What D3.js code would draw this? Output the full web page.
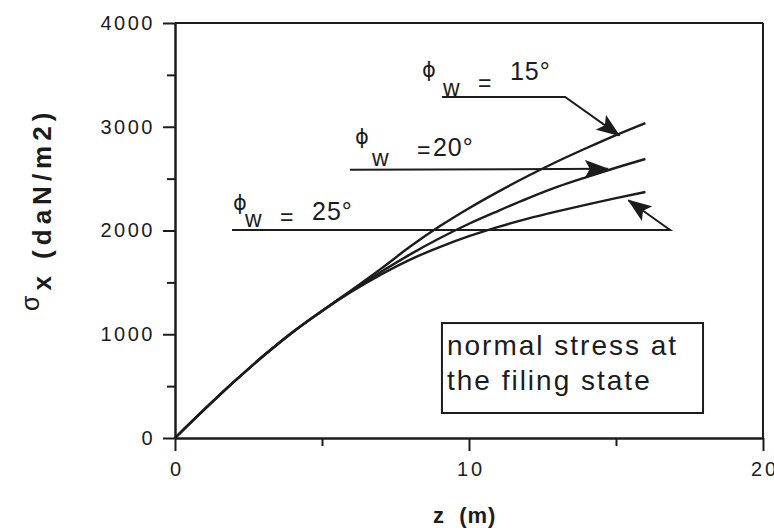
<!DOCTYPE html>
<html>
<head>
<meta charset="utf-8">
<script src="https://cdn.jsdelivr.net/npm/d3@7"></script>
<style>
  html, body { margin: 0; padding: 0; background: #ffffff; }
  svg { display: block; }
  text { font-family: "Liberation Sans", Arial, Helvetica, sans-serif; fill: #1c1c1c; }
</style>
</head>
<body>
<svg id="chart" width="774" height="528"></svg>
<script>
// Depth below the surface (m)
const depth = [0, 1, 2, 3, 4, 5, 6, 7, 8, 9, 10, 11, 12, 13, 14, 15, 16];
// Horizontal normal stress sigma_x (daN/m2) for each wall friction angle
const stressPhi15 = [0, 275, 540, 790, 1020, 1225, 1425, 1630, 1845, 2040, 2215, 2375, 2525, 2665, 2795, 2920, 3036];
const stressPhi20 = [0, 275, 540, 790, 1020, 1225, 1418, 1600, 1770, 1925, 2065, 2190, 2310, 2420, 2515, 2605, 2689];
const stressPhi25 = [0, 275, 540, 790, 1020, 1225, 1410, 1575, 1720, 1840, 1945, 2035, 2115, 2185, 2250, 2312, 2371];
const seriesAngles = ["15°", "20°", "25°"];

const xMajorTicks = [0, 10, 20];
const xMinorTicks = [5, 15];
const yMajorTicks = [0, 1000, 2000, 3000, 4000];
const yMinorTicks = [500, 1500, 2500, 3500];

const boxLines = ["normal stress at", "the filing state"];

const svg = d3.select("#chart");
const ink = "#1c1c1c";

const x = d3.scaleLinear().domain([0, 20]).range([175, 763]);
const y = d3.scaleLinear().domain([0, 4000]).range([438, 23]);

// ---- frame (top and right) ----
svg.append("line").attr("x1", x(0)).attr("x2", x(20)).attr("y1", y(4000)).attr("y2", y(4000))
  .attr("stroke", ink).attr("stroke-width", 2);
svg.append("line").attr("x1", x(20)).attr("x2", x(20)).attr("y1", y(4000)).attr("y2", y(0))
  .attr("stroke", ink).attr("stroke-width", 2);

// ---- axes ----
function styleAxis(g) {
  g.selectAll("path.domain").attr("stroke", ink).attr("stroke-width", 2);
  g.selectAll(".tick line").attr("stroke", ink).attr("stroke-width", 2);
  g.selectAll(".tick text").attr("fill", ink);
}

const yMinor = svg.append("g").attr("transform", `translate(${x(0)},0)`)
  .call(d3.axisLeft(y).tickValues(yMinorTicks).tickSize(8).tickSizeOuter(0).tickFormat(""));
styleAxis(yMinor);
const yMajor = svg.append("g").attr("transform", `translate(${x(0)},0)`)
  .call(d3.axisLeft(y).tickValues(yMajorTicks).tickSize(12).tickSizeOuter(0).tickPadding(8).tickFormat(d3.format("d")));
styleAxis(yMajor);
yMajor.selectAll(".tick text").style("font-size", "20px").style("letter-spacing", "2.5px");

const xMinor = svg.append("g").attr("transform", `translate(0,${y(0)})`)
  .call(d3.axisBottom(x).tickValues(xMinorTicks).tickSize(8).tickSizeOuter(0).tickFormat(""));
styleAxis(xMinor);
const xMajor = svg.append("g").attr("transform", `translate(0,${y(0)})`)
  .call(d3.axisBottom(x).tickValues(xMajorTicks).tickSize(13).tickSizeOuter(0).tickPadding(11).tickFormat(d3.format("d")));
styleAxis(xMajor);
xMajor.selectAll(".tick text").style("font-size", "20px").style("letter-spacing", "3px").attr("dx", "1.5px");

// ---- axis titles ----
const yTitle = svg.append("text")
  .attr("transform", `translate(51,311) rotate(-90)`)
  .style("font-weight", "bold").style("font-size", "26px").style("letter-spacing", "5px");
yTitle.append("tspan").text("σ").attr("dy", -12).style("font-weight", "normal").style("font-size", "25px");
yTitle.append("tspan").text("x (daN/m2)").attr("dy", 12);

svg.append("text").attr("x", 433).attr("y", 523)
  .style("font-weight", "bold").style("font-size", "22px").style("letter-spacing", "1px")
  .attr("xml:space", "preserve").text("z  (m)");

// ---- curves ----
const series = [stressPhi15, stressPhi20, stressPhi25];
const line = d3.line().x(d => x(d[0])).y(d => y(d[1])).curve(d3.curveMonotoneX);
svg.append("g").selectAll("path").data(series).join("path")
  .attr("d", s => line(depth.map((z, i) => [z, s[i]])))
  .attr("fill", "none").attr("stroke", ink).attr("stroke-width", 2.4)
  .attr("stroke-linejoin", "round");

// ---- arrow head ----
svg.append("defs").append("marker")
  .attr("id", "head").attr("markerUnits", "userSpaceOnUse")
  .attr("viewBox", "0 0 24 18").attr("refX", 23).attr("refY", 9)
  .attr("markerWidth", 24).attr("markerHeight", 18).attr("orient", "auto")
  .append("path").attr("d", "M0,0 L24,9 L0,18 L5,9 Z").attr("fill", ink);

// ---- leader lines with angle labels (positions in data units) ----
const leaders = [
  { angle: seriesAngles[0], path: [[9.08, 3287], [13.27, 3287], [15.12, 2915]],
    phi: [-13, -20], w: [1, -1], eq: [36, -6], val: [68, -17], valText: "15°" },
  { angle: seriesAngles[1], path: [[5.95, 2585], [14.72, 2595]],
    phi: [12, -26], w: [22, -4], eq: [67, -12], val: [83, -14], valText: "20°" },
  { angle: seriesAngles[2], path: [[1.94, 2005], [16.84, 2005], [15.42, 2292]],
    phi: [8, -20], w: [13, -3], eq: [48, -5], val: [80, -10], valText: "25°" }
];

const lead = d3.line().x(d => x(d[0])).y(d => y(d[1]));
leaders.forEach(L => {
  svg.append("path").attr("d", lead(L.path))
    .attr("fill", "none").attr("stroke", ink).attr("stroke-width", 2)
    .attr("marker-end", "url(#head)");
  const ox = x(L.path[0][0]), oy = y(L.path[0][1]);
  svg.append("text").attr("x", ox + L.phi[0]).attr("y", oy + L.phi[1])
    .attr("text-anchor", "middle")
    .style("font-family", "'DejaVu Sans', sans-serif").style("font-size", "21px").text("ϕ");
  svg.append("text").attr("x", ox + L.w[0]).attr("y", oy + L.w[1])
    .style("font-size", "23px").text("w");
  svg.append("text").attr("x", ox + L.eq[0]).attr("y", oy + L.eq[1])
    .style("font-size", "23px").text("=");
  svg.append("text").attr("x", ox + L.val[0]).attr("y", oy + L.val[1])
    .style("font-size", "25px").style("letter-spacing", "1px").text(L.valText);
});

// ---- note box ----
const box = { z0: 9.08, z1: 17.96, s0: 1108, s1: 241 };
svg.append("rect")
  .attr("x", x(box.z0)).attr("y", y(box.s0))
  .attr("width", x(box.z1) - x(box.z0)).attr("height", y(box.s1) - y(box.s0))
  .attr("fill", "#ffffff").attr("stroke", ink).attr("stroke-width", 2);
boxLines.forEach((t, i) => {
  svg.append("text").attr("x", x(box.z0) + 5).attr("y", y(box.s0) + 32 + i * 35)
    .style("font-size", "28px").style("letter-spacing", "2px").text(t);
});
</script>
</body>
</html>
